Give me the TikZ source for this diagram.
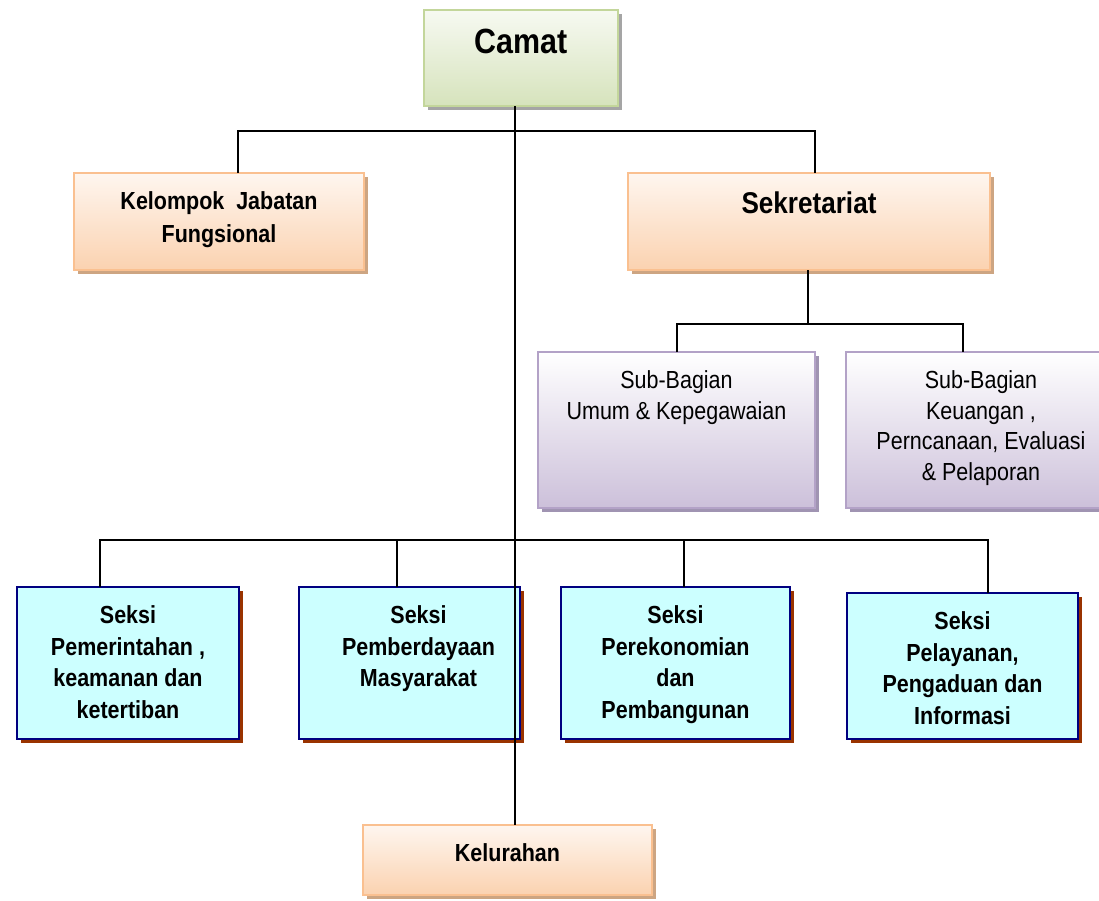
\documentclass[tikz,border=0pt]{standalone}
\usepackage{fontspec}
\setmainfont[FakeStretch=0.87]{Liberation Sans}
\usetikzlibrary{positioning,shadows}
\definecolor{camatgreen}{RGB}{214,227,188}
\definecolor{camatedge}{RGB}{195,214,155}
\definecolor{camatshadow}{RGB}{165,165,165}
\definecolor{peachfill}{RGB}{251,210,176}
\definecolor{peachedge}{RGB}{250,192,144}
\definecolor{peachshadow}{RGB}{205,165,130}
\definecolor{lilacfill}{RGB}{204,192,218}
\definecolor{lilacedge}{RGB}{179,162,199}
\definecolor{lilacshadow}{RGB}{160,148,178}
\definecolor{seksicyan}{RGB}{204,255,255}
\definecolor{seksiedge}{RGB}{0,0,128}
\definecolor{seksishadow}{RGB}{153,51,0}

% text of a box: width, height, lines (set at the top of the box)
\newcommand{\boxtxt}[3]{\parbox[c][#2][t]{#1}{\centering\vspace*{19pt}#3\par}}

\begin{document}
\begin{tikzpicture}[
  x=1pt, y=-1pt,
  unit/.style={inner sep=0pt, outer sep=0pt, line width=2pt},
  camatbox/.style={unit, draw=camatedge, top color=camatgreen!20, bottom color=camatgreen,
    drop shadow={shadow xshift=4pt, shadow yshift=-4pt, fill=camatshadow, opacity=1},
    font=\bfseries\fontsize{35}{40}\selectfont},
  orgbox/.style={unit, draw=peachedge, top color=peachfill!20, bottom color=peachfill,
    drop shadow={shadow xshift=4pt, shadow yshift=-4pt, fill=peachshadow, opacity=1},
    font=\bfseries\fontsize{24.7}{33}\selectfont},
  subbox/.style={unit, draw=lilacedge, top color=white, bottom color=lilacfill,
    drop shadow={shadow xshift=4pt, shadow yshift=-4pt, fill=lilacshadow, opacity=1},
    font=\fontsize{24.7}{30.5}\selectfont},
  seksibox/.style={unit, line width=2.6pt, draw=seksiedge, fill=seksicyan,
    drop shadow={shadow xshift=4pt, shadow yshift=-4pt, fill=seksishadow, opacity=1},
    font=\bfseries\fontsize{24.7}{31.5}\selectfont},
  link/.style={line width=2pt, black},
]
\clip (0,0) rectangle (1099,900);

% ---- top ----
\node[camatbox] (camat) at (521,58) {\boxtxt{194pt}{96pt}{Camat}};

\node[orgbox] (kjf) at (219,221.5)
  {\boxtxt{290pt}{97pt}{Kelompok\ \ Jabatan\\Fungsional}};
\node[orgbox, font=\bfseries\fontsize{30}{36}\selectfont] (sekr) at (809,221.5)
  {\boxtxt{362pt}{97pt}{Sekretariat}};

% ---- sub-bagian ----
\node[subbox] (sub1) at (676.5,430)
  {\boxtxt{277pt}{156pt}{Sub-Bagian\\Umum \& Kepegawaian}};
\node[subbox] (sub2) at (981,430)
  {\boxtxt{270pt}{156pt}{Sub-Bagian\\Keuangan ,\\Perncanaan, Evaluasi\\\& Pelaporan}};

% ---- seksi row ----
\node[seksibox] (s1) at (128,663)
  {\boxtxt{222pt}{152pt}{Seksi\\Pemerintahan ,\\keamanan dan\\ketertiban}};
\node[seksibox] (s2) at (409.5,663)
  {\boxtxt{221pt}{152pt}{\hspace*{18pt}Seksi\\\hspace*{18pt}Pemberdayaan\\\hspace*{18pt}Masyarakat}};
\node[seksibox] (s3) at (675.5,663)
  {\boxtxt{229pt}{152pt}{Seksi\\Perekonomian\\dan\\Pembangunan}};
\node[seksibox] (s4) at (962.5,666)
  {\boxtxt{231pt}{146pt}{Seksi\\Pelayanan,\\Pengaduan dan\\Informasi}};

\node[orgbox] (kel) at (507.5,860) {\boxtxt{289pt}{70pt}{Kelurahan}};

% ---- connectors ----
\coordinate (spine) at (515,131);
\coordinate (subbar) at (808,324);
\coordinate (seksibar) at (515,540);

\draw[link] (spine |- camat.south) -- (spine |- kel.north);
\draw[link] ([xshift=19pt]kjf.north) |- (spine) -| ([xshift=6pt]sekr.north);

\draw[link] (sekr.south -| subbar) -- (subbar);
\draw[link] (sub1.north) |- (subbar) -| ([xshift=-18pt]sub2.north);

\draw[link] ([xshift=-28pt]s1.north) |- (seksibar) -| ([xshift=25pt]s4.north);
\draw[link] ([xshift=-13pt]s2.north) -- ([xshift=-13pt]s2.north |- seksibar);
\draw[link] ([xshift=8pt]s3.north) -- ([xshift=8pt]s3.north |- seksibar);

\end{tikzpicture}
\end{document}
